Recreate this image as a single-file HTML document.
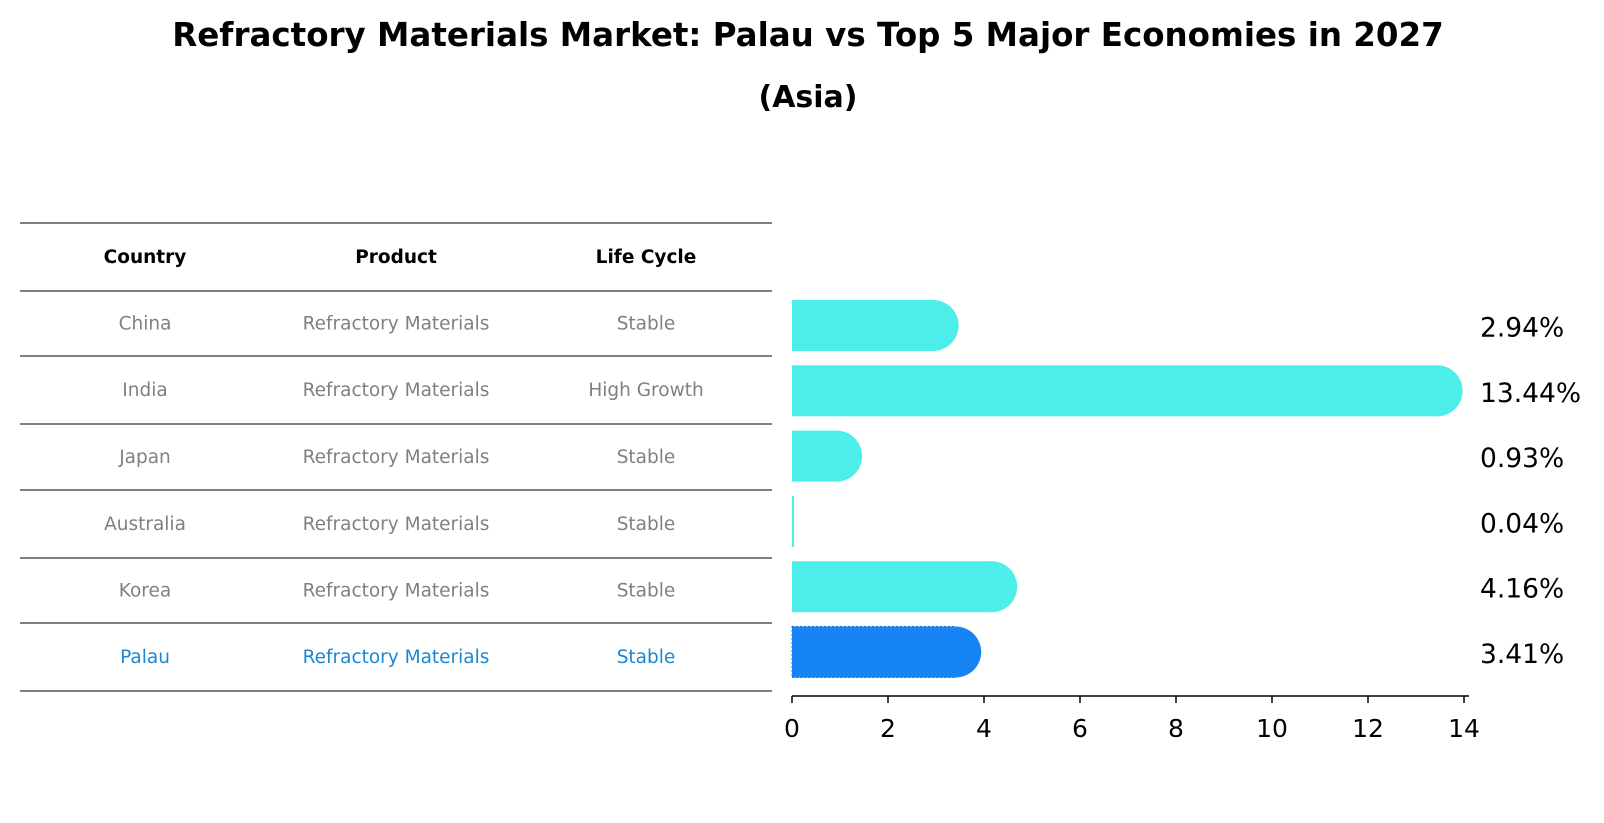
<!DOCTYPE html>
<html><head><meta charset="utf-8"><style>
body{margin:0;background:#fff;font-family:"DejaVu Sans","Liberation Sans",sans-serif;}
#wrap{position:relative;width:1604px;height:823px;overflow:hidden;}
.t{position:absolute;white-space:nowrap;}
</style></head><body>
<div id="wrap">
<div class="t" style="left:0;width:1616px;text-align:center;top:16px;font-size:32.5px;font-weight:bold;">Refractory Materials Market: Palau vs Top 5 Major Economies in 2027</div>
<div class="t" style="left:0;width:1616px;text-align:center;top:80px;font-size:30px;font-weight:bold;">(Asia)</div>
<svg id="svg" width="1604" height="823" style="position:absolute;left:0;top:0"></svg>
</div>
<script>
const countries=["China","India","Japan","Australia","Korea","Palau"];
const products=["Refractory Materials","Refractory Materials","Refractory Materials","Refractory Materials","Refractory Materials","Refractory Materials"];
const lifeCycles=["Stable","High Growth","Stable","Stable","Stable","Stable"];
const values=[2.94,13.44,0.93,0.04,4.16,3.41];
const xTicks=[0,2,4,6,8,10,12,14];
const NS="http://www.w3.org/2000/svg";
const svg=document.getElementById('svg');
const x0=792,pxPer=(1464-792)/14;
const xs=v=>x0+v*pxPer;
const rowY=i=>325.5+i*65.3;
function mk(tag,attrs){const e=document.createElementNS(NS,tag);for(const k in attrs)e.setAttribute(k,attrs[k]);svg.appendChild(e);return e;}
const lines=[223,291,356,424,490,558,623,691];
lines.forEach(y=>{const l=mk('line',{x1:20,x2:772,y1:y,y2:y,stroke:'#000','stroke-width':1});

});
const colX=[145,396,646];
["Country","Product","Life Cycle"].forEach((h,j)=>{const t=mk('text',{x:colX[j],y:263,'text-anchor':'middle','font-size':18.5,'font-weight':'bold',fill:'#000'});t.textContent=h;

});
countries.forEach((c,i)=>{
 const y=(lines[i+1]+lines[i+2])/2+6;
 const col=c==="Palau"?'#1a87d6':'#808080';
 [c,products[i],lifeCycles[i]].forEach((s,j)=>{const t=mk('text',{x:colX[j],y:y,'text-anchor':'middle','font-size':18.5,fill:col});t.textContent=s;
 
 });
 const cy=rowY(i),h=51,isP=c==="Palau";
 const color=isP?'#1784f5':'#4deeea';
 const w=Math.max(xs(values[i])-x0,1.5);
 const g=document.createElementNS(NS,'g');svg.appendChild(g);
 
 
 const r=document.createElementNS(NS,'rect');
 r.setAttribute('x',x0);r.setAttribute('y',cy-h/2);r.setAttribute('width',w);r.setAttribute('height',h);r.setAttribute('fill',color);
 if(isP){r.setAttribute('stroke','#0f6fd6');r.setAttribute('stroke-dasharray','2,2');}
 g.appendChild(r);
 if(values[i]>0.3){const ci=document.createElementNS(NS,'circle');ci.setAttribute('cx',xs(values[i]));ci.setAttribute('cy',cy);ci.setAttribute('r',h/2);ci.setAttribute('fill',color);g.appendChild(ci);}
 const lb=mk('text',{x:1480,y:cy+11,'font-size':26.5,fill:'#000'});lb.textContent=values[i].toFixed(2)+'%';
 
 
});
const ax=mk('line',{x1:x0,x2:1469,y1:696,y2:696,stroke:'#000','stroke-width':1.5});


xTicks.forEach(v=>{const tk=mk('line',{x1:xs(v),x2:xs(v),y1:696,y2:703,stroke:'#000','stroke-width':1.5});


const t=mk('text',{x:xs(v),y:737,'text-anchor':'middle','font-size':25,fill:'#000'});t.textContent=v;

});
</script>
</body></html>
